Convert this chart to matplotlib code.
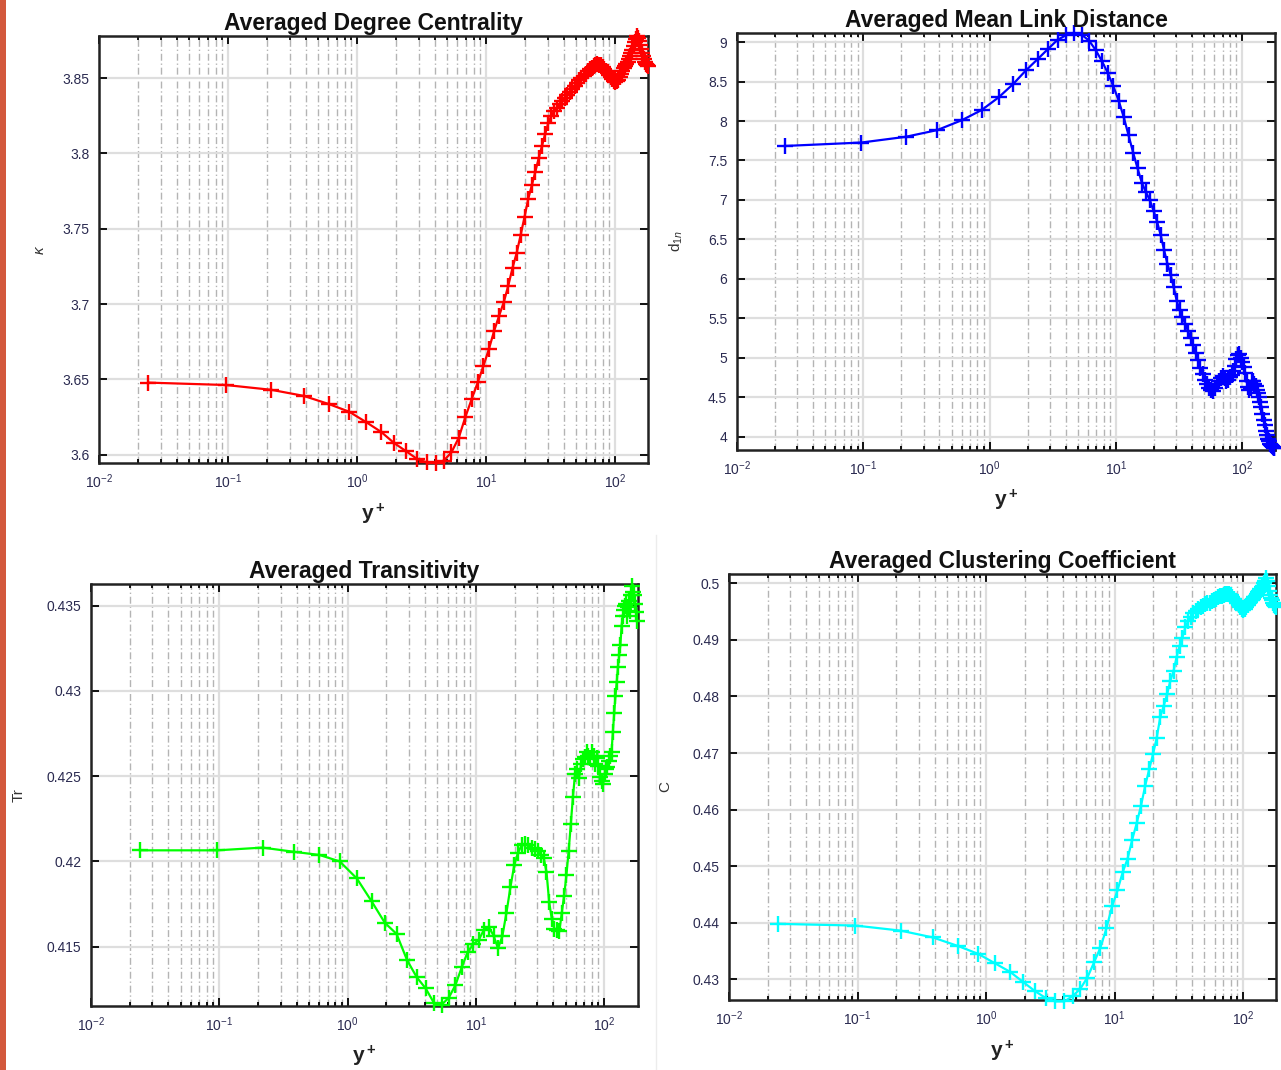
import matplotlib
matplotlib.use("Agg")
import matplotlib.pyplot as plt
from matplotlib.ticker import FixedLocator, FormatStrFormatter, LogLocator, NullFormatter
from matplotlib.patches import Rectangle
from matplotlib.lines import Line2D

plt.rcParams['font.family'] = ['Liberation Sans', 'DejaVu Sans']
plt.rcParams['mathtext.fontset'] = 'custom'
plt.rcParams['mathtext.rm'] = 'Liberation Sans'
plt.rcParams['mathtext.it'] = 'Liberation Sans:italic'
plt.rcParams['mathtext.bf'] = 'Liberation Sans:bold'

# wall distance y+ of the grid points
y_plus = [0.0241, 0.0964, 0.217, 0.385, 0.602, 0.867, 1.179, 1.540, 1.948, 2.404,
          2.908, 3.459, 4.057, 4.702, 5.394, 6.133, 6.919, 7.751, 8.629, 9.553,
          10.52, 11.54, 12.60, 13.70, 14.85, 16.04, 17.28, 18.56, 19.89, 21.25,
          22.66, 24.12, 25.61, 27.14, 28.72, 30.34, 31.99, 33.69, 35.42, 37.20,
          39.01, 40.86, 42.75, 44.67, 46.63, 48.62, 50.66, 52.72, 54.82, 56.95,
          59.12, 61.32, 63.55, 65.81, 68.10, 70.42, 72.77, 75.15, 77.56, 80.00,
          82.46, 84.95, 87.46, 90.00, 92.56, 95.15, 97.76, 100.4, 103.0, 105.7,
          108.4, 111.1, 113.8, 116.6, 119.4, 122.1, 124.9, 127.7, 130.6, 133.4,
          136.3, 139.1, 142.0, 144.9, 147.8, 150.7, 153.6, 156.5, 159.4, 162.4,
          165.3, 168.2, 171.2, 174.1, 177.1, 180.0]

degree = [3.6478, 3.6462, 3.6430, 3.6390, 3.6336, 3.6285, 3.6215, 3.6150, 3.6075, 3.6022,
          3.5972, 3.5948, 3.5945, 3.5960, 3.6015, 3.6110, 3.6250, 3.6370, 3.6480, 3.6590,
          3.6700, 3.6820, 3.6920, 3.7010, 3.7120, 3.7240, 3.7340, 3.7460, 3.7580, 3.7700,
          3.7790, 3.7880, 3.7970, 3.8050, 3.8130, 3.8200, 3.8250, 3.8280, 3.8300, 3.8330,
          3.8350, 3.8370, 3.8390, 3.8410, 3.8430, 3.8450, 3.8470, 3.8485, 3.8500, 3.8515,
          3.8530, 3.8545, 3.8560, 3.8570, 3.8580, 3.8588, 3.8592, 3.8590, 3.8585, 3.8575,
          3.8562, 3.8548, 3.8535, 3.8520, 3.8505, 3.8492, 3.8480, 3.8472, 3.8478, 3.8490,
          3.8505, 3.8525, 3.8545, 3.8565, 3.8580, 3.8595, 3.8610, 3.8630, 3.8650, 3.8668,
          3.8690, 3.8715, 3.8740, 3.8760, 3.8778, 3.8770, 3.8745, 3.8720, 3.8695, 3.8670,
          3.8650, 3.8630, 3.8610, 3.8595, 3.8585, 3.8580]

link_dist = [7.684, 7.727, 7.800, 7.885, 8.010, 8.140, 8.300, 8.470, 8.645, 8.785,
             8.915, 9.030, 9.090, 9.110, 9.090, 9.020, 8.900, 8.760, 8.610, 8.440,
             8.260, 8.050, 7.820, 7.600, 7.400, 7.220, 7.100, 7.000, 6.860, 6.720,
             6.550, 6.360, 6.190, 6.050, 5.890, 5.720, 5.600, 5.510, 5.430, 5.340,
             5.250, 5.160, 5.060, 4.970, 4.870, 4.790, 4.720, 4.660, 4.610, 4.590,
             4.580, 4.620, 4.660, 4.700, 4.740, 4.770, 4.740, 4.710, 4.720, 4.750,
             4.780, 4.830, 4.900, 4.980, 5.030, 5.050, 5.000, 4.950, 4.880, 4.810,
             4.700, 4.630, 4.590, 4.620, 4.710, 4.700, 4.670, 4.640, 4.590, 4.550,
             4.500, 4.440, 4.380, 4.290, 4.210, 4.140, 4.070, 4.020, 3.970, 3.940,
             3.910, 3.890, 3.880, 3.870, 3.860, 3.860]

transitivity = [0.42065, 0.42065, 0.42081, 0.42056, 0.42038, 0.42000, 0.41900, 0.41765, 0.41640, 0.41575,
                0.41420, 0.41320, 0.41255, 0.41170, 0.41160, 0.41200, 0.41275, 0.41380, 0.41470, 0.41515,
                0.41540, 0.41600, 0.41615, 0.41565, 0.41490, 0.41560, 0.41700, 0.41850, 0.41980, 0.42050,
                0.42095, 0.42102, 0.42095, 0.42080, 0.42070, 0.42060, 0.42035, 0.42020, 0.41940, 0.41760,
                0.41660, 0.41605, 0.41595, 0.41590, 0.41700, 0.41800, 0.41920, 0.42060, 0.42220, 0.42380,
                0.42510, 0.42540, 0.42490, 0.42570, 0.42600, 0.42615, 0.42640, 0.42620, 0.42605, 0.42640,
                0.42620, 0.42570, 0.42605, 0.42560, 0.42495, 0.42470, 0.42455, 0.42510, 0.42540, 0.42555,
                0.42590, 0.42620, 0.42640, 0.42760, 0.42870, 0.42970, 0.43050, 0.43140, 0.43210, 0.43270,
                0.43380, 0.43440, 0.43475, 0.43500, 0.43510, 0.43440, 0.43490, 0.43530, 0.43470, 0.43560,
                0.43615, 0.43580, 0.43560, 0.43510, 0.43460, 0.43410]

clustering = [0.4398, 0.4395, 0.4386, 0.4374, 0.4359, 0.4345, 0.4328, 0.4313, 0.4295, 0.4279,
              0.4267, 0.4261, 0.4261, 0.4270, 0.4283, 0.4303, 0.4330, 0.4356, 0.4390, 0.4429,
              0.4457, 0.4489, 0.4513, 0.4547, 0.4576, 0.4607, 0.4642, 0.4671, 0.4698, 0.4727,
              0.4764, 0.4784, 0.4804, 0.4828, 0.4845, 0.4870, 0.4889, 0.4904, 0.4922, 0.4933,
              0.4941, 0.4947, 0.4951, 0.4955, 0.4958, 0.4960, 0.4963, 0.4965, 0.4966, 0.4968,
              0.4971, 0.4973, 0.4975, 0.4977, 0.4978, 0.4979, 0.4981, 0.4982, 0.4981, 0.4979,
              0.4976, 0.4973, 0.4969, 0.4966, 0.4962, 0.4958, 0.4955, 0.4953, 0.4955, 0.4959,
              0.4962, 0.4965, 0.4967, 0.4970, 0.4972, 0.4975, 0.4978, 0.4981, 0.4984, 0.4987,
              0.4990, 0.4993, 0.4996, 0.5000, 0.5005, 0.5009, 0.5005, 0.4995, 0.4986, 0.4979,
              0.4974, 0.4970, 0.4966, 0.4962, 0.4960, 0.4958]

W, H = 1281, 1070
fig = plt.figure(figsize=(W / 100, H / 100), dpi=100)

# orange strip at the left edge and faint separator
fig.patches.append(Rectangle((0, 0), 6 / W, 1, transform=fig.transFigure,
                             facecolor='#d3583c', edgecolor='none'))
fig.lines.append(Line2D([656 / W, 656 / W], [0, 1 - 535 / H], transform=fig.transFigure,
                        color='#ececec', lw=1))


def add_panel(box, xmax, ylim, yticks, ydata, color, title, ylabel, ylab_x):
    left, right, top, bottom = box
    ax = fig.add_axes([left / W, 1 - bottom / H, (right - left) / W, (bottom - top) / H])
    ax.set_xscale('log')
    ax.set_xlim(0.01, xmax)
    ax.set_ylim(*ylim)
    ax.yaxis.set_major_locator(FixedLocator(yticks))
    ax.yaxis.set_major_formatter(FormatStrFormatter('%g'))
    ax.xaxis.set_major_locator(LogLocator(base=10, numticks=10))
    ax.xaxis.set_minor_locator(LogLocator(base=10, subs=range(2, 10), numticks=20))
    ax.xaxis.set_minor_formatter(NullFormatter())

    ax.grid(True, which='major', color='#dedede', lw=1.6, ls='-')
    ax.grid(True, which='minor', axis='x', color='#b4b4b4', lw=1.0, ls=(0, (5, 2, 1, 2)))
    ax.set_axisbelow(True)

    ax.tick_params(which='both', direction='in', top=True, right=True,
                   labelsize=10, labelcolor='#2a2a50', width=1.3)
    ax.tick_params(which='major', length=6, pad=7)
    ax.tick_params(which='minor', length=3)
    for s in ax.spines.values():
        s.set_linewidth(1.8)
        s.set_color('#222222')

    ax.plot(y_plus, ydata, color=color, lw=1.6, marker='+', markersize=12,
            markeredgewidth=1.7, clip_on=False, zorder=3)

    ax.set_title(title, fontsize=16.5, fontweight='bold', pad=4, color='#111111')
    ax.set_xlabel(r'$\mathbf{y^+}$', fontsize=15, color='#222222')
    ax.xaxis.set_label_coords(0.5, -0.09)
    ax.set_ylabel(ylabel, fontsize=11, color='#333333')
    ax.yaxis.set_label_coords(ylab_x, 0.5)
    return ax


add_panel((99, 648, 36, 463), 180, (3.5944, 3.878),
          [3.6, 3.65, 3.7, 3.75, 3.8, 3.85], degree, '#ff0000',
          'Averaged Degree Centrality', r'$\kappa$', -0.095)

add_panel((737, 1275, 33, 450), 182, (3.829, 9.116),
          [4, 4.5, 5, 5.5, 6, 6.5, 7, 7.5, 8, 8.5, 9], link_dist, '#0000ff',
          'Averaged Mean Link Distance', r'd$_{1n}$', -0.097)

add_panel((91, 638, 584, 1006), 183, (0.41152, 0.43627),
          [0.415, 0.42, 0.425, 0.43, 0.435], transitivity, '#00ff00',
          'Averaged Transitivity', 'Tr', -0.12)

add_panel((729, 1276, 574, 1000), 180, (0.42634, 0.50165),
          [0.43, 0.44, 0.45, 0.46, 0.47, 0.48, 0.49, 0.5], clustering, '#00ffff',
          'Averaged Clustering Coefficient', 'C', -0.104)

fig.savefig('out.png', dpi=100)
